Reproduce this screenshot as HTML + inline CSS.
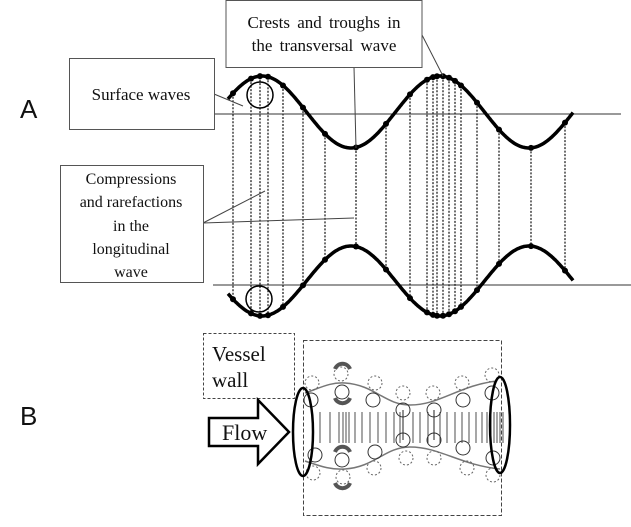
<!DOCTYPE html>
<html><head><meta charset="utf-8"><style>
html,body{margin:0;padding:0;background:#fff;width:631px;height:527px;overflow:hidden}
svg{display:block}
text{font-family:"Liberation Serif",serif;fill:#111}
</style></head><body>
<svg id="s" width="631" height="527" viewBox="0 0 631 527" xmlns="http://www.w3.org/2000/svg">
<text x="20" y="118" style="font-family:'Liberation Sans',sans-serif;font-size:26px">A</text>
<text x="20" y="425" style="font-family:'Liberation Sans',sans-serif;font-size:26px">B</text>
<line x1="213" y1="114" x2="621" y2="114" stroke="#333" stroke-width="1"/>
<line x1="213" y1="285" x2="631" y2="285" stroke="#333" stroke-width="1"/>
<g id="dots"></g>
<path id="w1" fill="none" stroke="#000" stroke-width="3.5"/>
<path id="w2" fill="none" stroke="#000" stroke-width="3.5"/>
<circle cx="260" cy="95" r="13" fill="none" stroke="#000" stroke-width="1.5"/>
<circle cx="259" cy="299" r="13" fill="none" stroke="#000" stroke-width="1.5"/>
<g stroke="#444" stroke-width="1" fill="none">
<line x1="421" y1="33" x2="443" y2="76"/>
<line x1="354" y1="67" x2="356" y2="148"/>
<line x1="214" y1="94" x2="243" y2="106"/>
<line x1="203" y1="223" x2="265" y2="191"/>
<line x1="203" y1="223" x2="354" y2="218"/>
</g>
<rect x="226" y="0.5" width="196" height="67" fill="#fff" stroke="#555"/>
<text x="324" y="28" text-anchor="middle" font-size="17" word-spacing="3">Crests and troughs in</text>
<text x="324" y="51" text-anchor="middle" font-size="17" word-spacing="3">the transversal wave</text>
<rect x="69.5" y="58.5" width="145" height="71" fill="#fff" stroke="#555"/>
<text x="141" y="100" text-anchor="middle" font-size="17">Surface waves</text>
<rect x="60.5" y="165.5" width="143" height="117" fill="#fff" stroke="#555"/>
<g font-size="16" text-anchor="middle">
<text x="131" y="184">Compressions</text>
<text x="131" y="207">and rarefactions</text>
<text x="131" y="231">in the</text>
<text x="131" y="254">longitudinal</text>
<text x="131" y="277">wave</text>
</g>
<rect x="203.5" y="333.5" width="91" height="65" fill="none" stroke="#444" stroke-dasharray="3,2"/>
<text x="212" y="361" font-size="21">Vessel</text>
<text x="212" y="387" font-size="21">wall</text>
<rect x="303.5" y="340.5" width="198" height="175" fill="none" stroke="#444" stroke-dasharray="4,2"/>
<path d="M209,418 H258 V400 L289,432 L258,464 V446 H209 Z" fill="#fff" stroke="#000" stroke-width="2.5"/>
<text x="222" y="440" font-size="22">Flow</text>
<g fill="none" stroke="#777" stroke-width="1.5">
<path d="M305,393 C320,388 330,382 345,383 C375,385 385,405 410,405 C440,405 460,385 497,381"/>
<path d="M305,461 C320,466 330,470 345,469 C375,467 385,447 410,447 C440,447 460,465 500,469"/>
</g>
<g id="vl" stroke="#222" stroke-width="0.8"></g>
<g id="cir" fill="none" stroke="#333" stroke-width="1"></g>
<g fill="none" stroke="#555" stroke-width="4">
<path d="M335,369 A8,8 0 0 1 350,369"/>
<path d="M335,398 A8,8 0 0 0 350,398"/>
<path d="M335,452 A8,8 0 0 1 350,452"/>
<path d="M335,483 A8,8 0 0 0 350,483"/>
</g>
<line x1="403" y1="410" x2="403" y2="440" stroke="#222"/>
<line x1="434" y1="410" x2="434" y2="440" stroke="#222"/>
<ellipse cx="303" cy="432" rx="10" ry="44" fill="none" stroke="#000" stroke-width="2.5"/>
<ellipse cx="500" cy="425" rx="10" ry="48" fill="none" stroke="#000" stroke-width="2.5"/>
</svg>
<script>
var NS="http://www.w3.org/2000/svg";
function t(x){return 112-36*Math.cos(2*Math.PI*(x-262)/178);}
function b(x){return 281+35*Math.cos(2*Math.PI*(x-262)/178);}
var d1="",d2="";
for(var x=228;x<=573;x+=1){d1+=(x==228?"M":"L")+x+","+t(x).toFixed(1);d2+=(x==228?"M":"L")+x+","+b(x).toFixed(1);}
document.getElementById("w1").setAttribute("d",d1);
document.getElementById("w2").setAttribute("d",d2);
var xs=[233,251,260,268,283,303,325,356,386,410,427,433,437,443,449,455,461,477,499,531,565];
var g=document.getElementById("dots");
xs.forEach(function(x){
 var l=document.createElementNS(NS,"line");
 l.setAttribute("x1",x);l.setAttribute("x2",x);l.setAttribute("y1",t(x));l.setAttribute("y2",b(x));
 l.setAttribute("stroke","#222");l.setAttribute("stroke-width","1.3");l.setAttribute("stroke-dasharray","2,1.5");
 g.appendChild(l);
 [t(x),b(x)].forEach(function(y){var c=document.createElementNS(NS,"circle");c.setAttribute("cx",x);c.setAttribute("cy",y);c.setAttribute("r","3");g.appendChild(c);});
});
var vx=[320,330,339,343,346,349,355,362,370,378,386,394,400,413,420,428,440,447,455,462,469,476,482,487,491,494,497,500,503];
var vl=document.getElementById("vl");
vx.forEach(function(x){var l=document.createElementNS(NS,"line");l.setAttribute("x1",x);l.setAttribute("x2",x);l.setAttribute("y1",412);l.setAttribute("y2",443);vl.appendChild(l);});
var solid=[[311,400],[342,392],[373,400],[403,410],[434,410],[463,400],[492,393],[315,455],[342,460],[375,452],[403,440],[434,440],[463,448],[493,458]];
var dash=[[312,383],[341,374],[375,383],[403,393],[433,393],[462,383],[492,375],[313,473],[343,477],[374,468],[406,458],[434,458],[467,468],[493,475]];
var cg=document.getElementById("cir");
solid.forEach(function(p){var c=document.createElementNS(NS,"circle");c.setAttribute("cx",p[0]);c.setAttribute("cy",p[1]);c.setAttribute("r",7);cg.appendChild(c);});
dash.forEach(function(p){var c=document.createElementNS(NS,"circle");c.setAttribute("cx",p[0]);c.setAttribute("cy",p[1]);c.setAttribute("r",7);c.setAttribute("stroke-dasharray","2,2");c.setAttribute("stroke","#666");cg.appendChild(c);});
</script>
</body></html>
